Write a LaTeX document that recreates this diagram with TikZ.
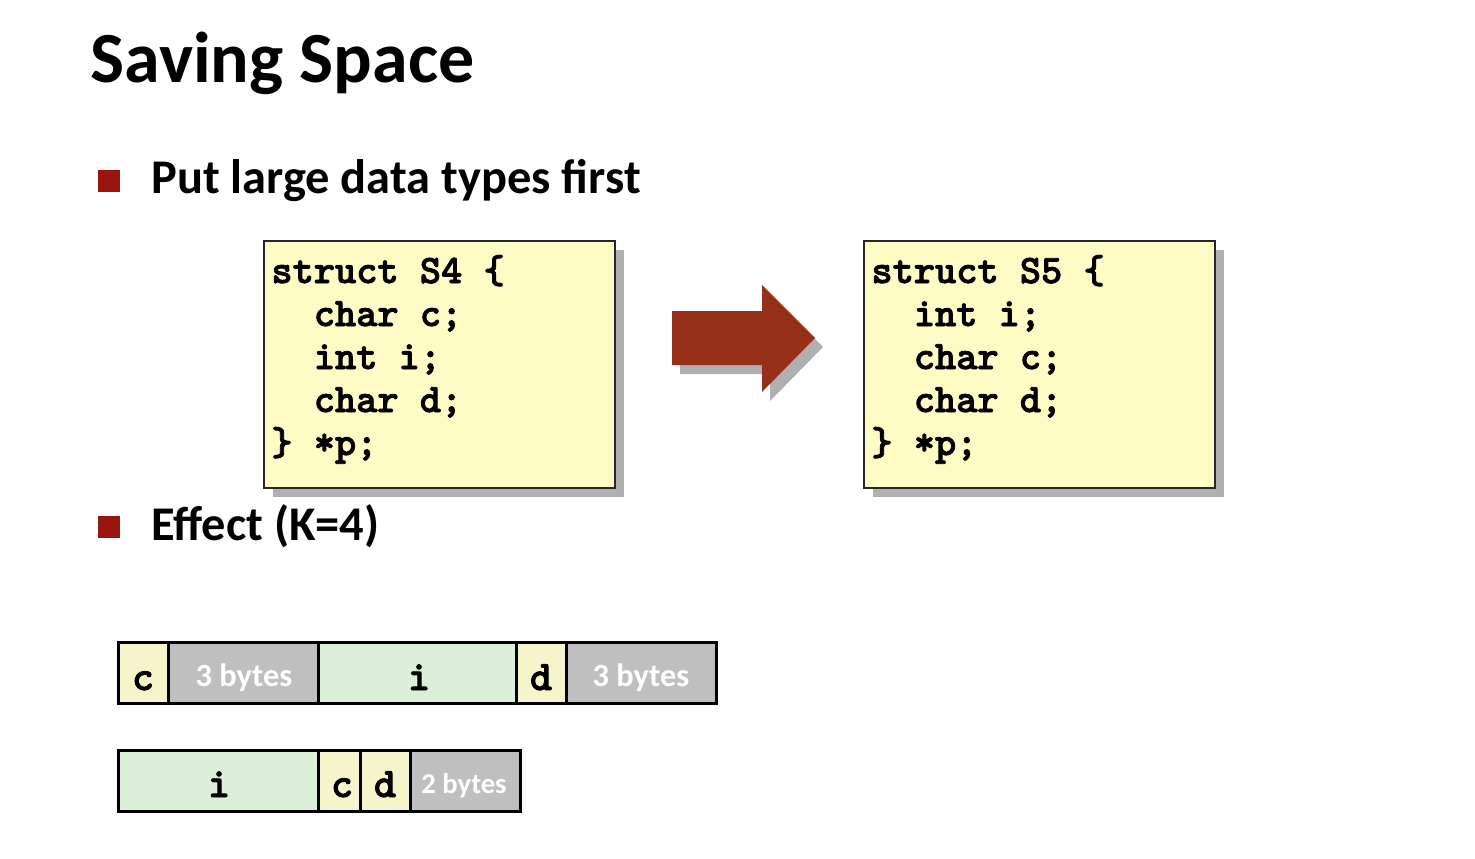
\documentclass[tikz,border=0pt]{standalone}
\usepackage{fontspec}
\setmainfont{Carlito}
\newfontfamily\codefont{lmmonolt10-bold}[Extension=.otf, FakeBold=2]
\usetikzlibrary{shadows}

\definecolor{bulletred}{RGB}{153,20,14}
\definecolor{arrowred}{RGB}{150,48,24}
\definecolor{codefill}{RGB}{255,251,196}
\definecolor{cellyellow}{RGB}{246,244,202}
\definecolor{cellgreen}{RGB}{220,240,217}
\definecolor{cellgray}{RGB}{191,191,191}
\definecolor{shadowgray}{RGB}{176,176,176}

\begin{document}
\begin{tikzpicture}[x=0.5pt,y=-0.5pt,
  heading/.style={anchor=base west, inner sep=0pt, font=\fontsize{36}{36}\selectfont\bfseries},
  bulletsq/.style={fill=bulletred, minimum size=11pt, inner sep=0pt},
  bullettext/.style={anchor=base west, inner sep=0pt, font=\fontsize{24.2}{24.2}\selectfont\bfseries},
  codebox/.style={draw=black!85, line width=1pt, fill=codefill, anchor=north west,
    minimum width=175.5pt, minimum height=123.5pt, inner sep=0pt,
    drop shadow={shadow xshift=4.5pt, shadow yshift=-4.5pt, fill=shadowgray, opacity=1}},
  codeline/.style={anchor=base west, inner sep=0pt, font=\fontsize{20.2}{20.2}\selectfont\codefont},
  cell/.style={draw=black, line width=1.5pt, minimum height=30.5pt, inner sep=0pt},
  celltext/.style={anchor=base, inner sep=0pt, font=\fontsize{21}{21}\selectfont\codefont},
  padtext/.style={anchor=base, inner sep=0pt, text=white, font=\fontsize{16.2}{16.2}\selectfont\bfseries},
]
\useasboundingbox (0,0) rectangle (1475,858);

% title and bullets
\node[heading] (title) at (90,82) {Saving Space};
\node[bulletsq] (sq1) at (109,181) {};
\node[bullettext] (pt1) at (151,193) {Put large data types first};
\node[bulletsq] (sq2) at (109,527) {};
\node[bullettext] (pt2) at (151,540) {Effect (K=4)};

% struct S4
\node[codebox] (s4) at (263,240) {};
\node[codeline] (s4a) at (271,283) {struct S4 \{};
\node[codeline] (s4b) at (271,326) {\ \ char c;};
\node[codeline] (s4c) at (271,369) {\ \ int i;};
\node[codeline] (s4d) at (271,412) {\ \ char d;};
\node[codeline] (s4e) at (271,455) {\} *p;};

% struct S5
\node[codebox] (s5) at (863,240) {};
\node[codeline] (s5a) at (871,283) {struct S5 \{};
\node[codeline] (s5b) at (871,326) {\ \ int i;};
\node[codeline] (s5c) at (871,369) {\ \ char c;};
\node[codeline] (s5d) at (871,412) {\ \ char d;};
\node[codeline] (s5e) at (871,455) {\} *p;};

% block arrow with its shadow
\fill[shadowgray, shift={(8,9)}] (672,311) -- (762,311) -- (762,285) -- (815,338)
  -- (762,392) -- (762,365) -- (672,365) -- cycle;
\fill[arrowred] (672,311) -- (762,311) -- (762,285) -- (815,338)
  -- (762,392) -- (762,365) -- (672,365) -- cycle;

% layout of S4
\node[cell, fill=cellyellow, minimum width=25pt] (r1c) at (143,672.5) {};
\node[cell, fill=cellgray, minimum width=75pt] (r1p1) at (243,672.5) {};
\node[cell, fill=cellgreen, minimum width=99pt] (r1i) at (417,672.5) {};
\node[cell, fill=cellyellow, minimum width=25pt] (r1d) at (541,672.5) {};
\node[cell, fill=cellgray, minimum width=75pt] (r1p2) at (641,672.5) {};
\node[celltext] (r1ct) at (143,690) {c};
\node[padtext] (r1p1t) at (244,686) {3 bytes};
\node[celltext] (r1it) at (419,690) {i};
\node[celltext] (r1dt) at (541,690) {d};
\node[padtext] (r1p2t) at (641,686) {3 bytes};

% layout of S5
\node[cell, fill=cellgreen, minimum width=100pt] (r2i) at (218,780.5) {};
\node[cell, fill=cellyellow, minimum width=21pt] (r2c) at (339,780.5) {};
\node[cell, fill=cellyellow, minimum width=25pt] (r2d) at (385,780.5) {};
\node[cell, fill=cellgray, minimum width=55pt] (r2p) at (465,780.5) {};
\node[celltext] (r2it) at (219,797) {i};
\node[celltext] (r2ct) at (342,797) {c};
\node[celltext] (r2dt) at (385,797) {d};
\node[padtext, font=\fontsize{14.3}{14.3}\selectfont\bfseries] (r2pt) at (464,793) {2 bytes};
\end{tikzpicture}
\end{document}
